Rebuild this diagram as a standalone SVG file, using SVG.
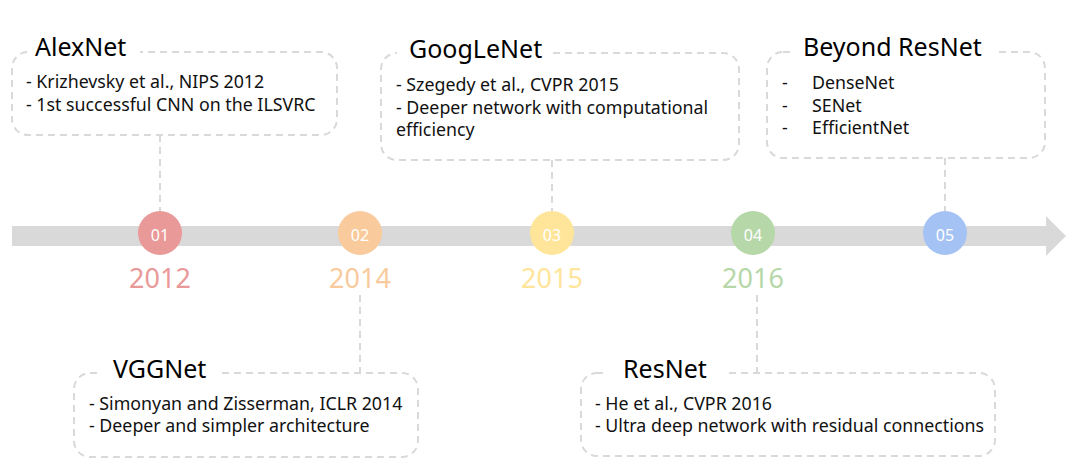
<svg xmlns="http://www.w3.org/2000/svg" width="1069" height="465" viewBox="0 0 1069 465">
<style>
.box{fill:#fff;stroke:#d9d9d9;stroke-width:2;stroke-dasharray:7 5}
.conn{stroke:#d9d9d9;stroke-width:2;stroke-dasharray:7 5;fill:none}
.title{font-family:"Noto Sans","Open Sans",sans-serif;font-size:25px;fill:#000}
.body{font-family:"Noto Sans","Open Sans",sans-serif;font-size:17.8px;fill:#111}
.num{font-family:"Noto Sans","Open Sans",sans-serif;font-size:16px;fill:#fff;text-anchor:middle}
.year{font-family:"Noto Sans","Open Sans",sans-serif;font-size:27px;text-anchor:middle}
.mask{fill:#fff}
</style>
<rect width="1069" height="465" fill="#fff"/>
<g id="timeline">
<polygon points="12,226 1046,226 1046,216 1066,236 1046,256 1046,246 12,246" fill="#d9d9d9"/>
</g>
<g id="connectors">
<line class="conn" x1="160" y1="135" x2="160" y2="211"/>
<line class="conn" x1="552" y1="160" x2="552" y2="211"/>
<line class="conn" x1="945" y1="158" x2="945" y2="211"/>
<line class="conn" x1="360" y1="295" x2="360" y2="373"/>
<line class="conn" x1="757" y1="295" x2="757" y2="373"/>
</g>
<g id="m01"><circle cx="160" cy="233" r="22" fill="#ea9999"/><text class="num" x="160" y="241">01</text><text class="year" x="160" y="288" fill="#ea9999">2012</text></g>
<g id="m02"><circle cx="360" cy="233" r="22" fill="#f9cb9c"/><text class="num" x="360" y="241">02</text><text class="year" x="360" y="288" fill="#f9cb9c">2014</text></g>
<g id="m03"><circle cx="552" cy="233" r="22" fill="#ffe599"/><text class="num" x="552" y="241">03</text><text class="year" x="552" y="288" fill="#ffe599">2015</text></g>
<g id="m04"><circle cx="753" cy="233" r="22" fill="#b6d7a8"/><text class="num" x="753" y="241">04</text><text class="year" x="753" y="288" fill="#b6d7a8">2016</text></g>
<g id="m05"><circle cx="945" cy="233" r="22" fill="#a4c2f4"/><text class="num" x="945" y="241">05</text></g>
<g id="alexnet">
<rect class="box" x="12" y="52" width="325" height="83" rx="16"/>
<rect class="mask" x="28" y="40" width="112" height="20"/>
<text class="title" x="35" y="56">AlexNet</text>
<text class="body" x="26" y="88">- Krizhevsky et al., NIPS 2012</text>
<text class="body" x="26" y="111">- 1st successful CNN on the ILSVRC</text>
</g>
<g id="googlenet">
<rect class="box" x="381" y="53" width="358" height="107" rx="16"/>
<rect class="mask" x="397" y="40" width="154" height="20"/>
<text class="title" x="409" y="58">GoogLeNet</text>
<text class="body" x="396" y="91">- Szegedy et al., CVPR 2015</text>
<text class="body" x="396" y="114">- Deeper network with computational</text>
<text class="body" x="396" y="136">efficiency</text>
</g>
<g id="beyond">
<rect class="box" x="767" y="52" width="278" height="106" rx="16"/>
<rect class="mask" x="790" y="40" width="204" height="20"/>
<text class="title" x="803" y="56">Beyond ResNet</text>
<text class="body" x="782" y="89">-</text><text class="body" x="812" y="89">DenseNet</text>
<text class="body" x="782" y="112">-</text><text class="body" x="812" y="112">SENet</text>
<text class="body" x="782" y="134">-</text><text class="body" x="812" y="134">EfficientNet</text>
</g>
<g id="vggnet">
<rect class="box" x="74" y="373" width="344" height="84" rx="16"/>
<rect class="mask" x="97" y="360" width="122" height="20"/>
<text class="title" x="113" y="378">VGGNet</text>
<text class="body" x="89" y="410">- Simonyan and Zisserman, ICLR 2014</text>
<text class="body" x="89" y="432">- Deeper and simpler architecture</text>
</g>
<g id="resnet">
<rect class="box" x="581" y="373" width="414" height="83" rx="16"/>
<rect class="mask" x="603" y="360" width="123" height="20"/>
<text class="title" x="623" y="378">ResNet</text>
<text class="body" x="595" y="410">- He et al., CVPR 2016</text>
<text class="body" x="595" y="432">- Ultra deep network with residual connections</text>
</g>
</svg>
